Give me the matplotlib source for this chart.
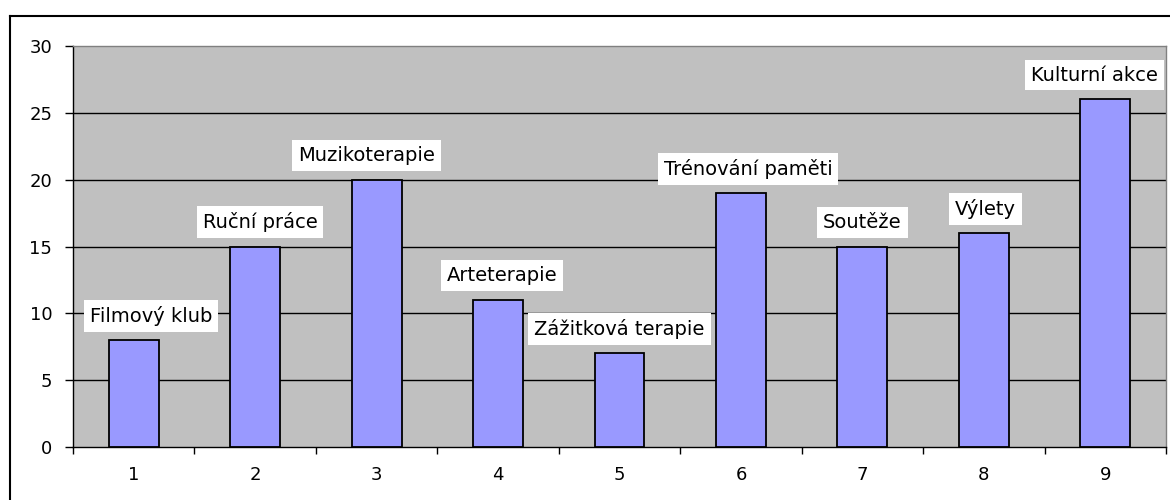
import matplotlib
matplotlib.use("Agg")
import matplotlib.pyplot as plt
from matplotlib.lines import Line2D
import numpy as np

categories = ["1", "2", "3", "4", "5", "6", "7", "8", "9"]
values = [8, 15, 20, 11, 7, 19, 15, 16, 26]
labels = ["Filmový klub", "Ruční práce", "Muzikoterapie", "Arteterapie",
          "Zážitková terapie", "Trénování paměti", "Soutěže", "Výlety",
          "Kulturní akce"]
yticks = [0, 5, 10, 15, 20, 25, 30]
# horizontal label offsets (px) to mimic label placement
label_dx = [17, 5, -10, 4, 0, 7, 0, 2, -11]

plt.rcParams['font.family'] = ['DejaVu Sans']

fig = plt.figure(figsize=(11.7, 5.0), dpi=100)
ax = fig.add_axes([73/1170, 1-447/500, (1166-73)/1170, (447-46)/500])
ax.set_facecolor('#C0C0C0')

x = np.arange(len(categories))
ax.bar(x, values, width=0.41, color='#9999FF', edgecolor='black', linewidth=1.3, zorder=3)

ax.set_xlim(-0.5, len(categories) - 0.5)
ax.set_ylim(0, 30)
ax.set_yticks(yticks)
ax.set_yticklabels([str(v) for v in yticks], fontsize=13)
for v in yticks[1:-1]:
    ax.axhline(v, color='black', linewidth=1.0, zorder=1)

ax.set_xticks(np.arange(len(categories) + 1) - 0.5)
ax.set_xticklabels([])
ax.set_xticks(x, minor=True)
ax.set_xticklabels(categories, minor=True, fontsize=13)
ax.tick_params(axis='x', which='major', length=5, direction='out', width=1)
ax.tick_params(axis='x', which='minor', length=0, pad=13.5)
ax.tick_params(axis='y', length=6, direction='out', width=1, pad=9)

ax.spines['left'].set_color('black')
ax.spines['bottom'].set_color('black')
ax.spines['top'].set_color('#808080')
ax.spines['right'].set_color('#808080')
for s in ax.spines.values():
    s.set_linewidth(1.0)

for xi, v, lab, dx in zip(x, values, labels, label_dx):
    ax.annotate(lab, (xi, v), xytext=(dx * 0.72, 17.5), textcoords='offset points',
                ha='center', va='center', fontsize=14, zorder=5,
                bbox=dict(boxstyle='square,pad=0.3', facecolor='white', edgecolor='none'))

# outer chart border (top and left visible)
fig.add_artist(Line2D([9.5/1170, 1.0], [1-16/500, 1-16/500], color='black', linewidth=1.5,
                      transform=fig.transFigure))
fig.add_artist(Line2D([9.5/1170, 9.5/1170], [0, 1-16/500], color='black', linewidth=1.5,
                      transform=fig.transFigure))

fig.savefig("out.png", dpi=100)
